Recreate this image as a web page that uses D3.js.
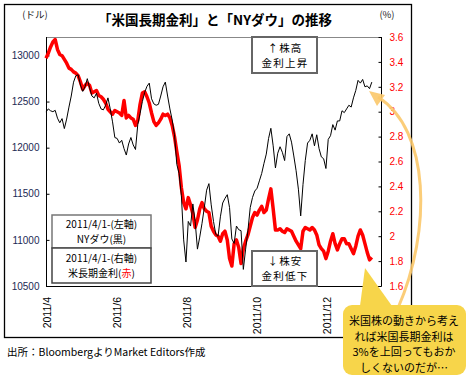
<!DOCTYPE html>
<html><head><meta charset="utf-8">
<script src="https://cdn.jsdelivr.net/npm/d3@7"></script>
<style>body{margin:0;background:#fff} svg{display:block}</style>
</head><body>
<svg id="c" width="470" height="382"></svg>
<script>
// ---- data ----
const startDate = new Date(2011, 3, 1);
const endDate = new Date(2012, 0, 18);
const dowValues = [12386,12420,12400,12390,12405,12320,12270,12315,12207,12310,
12440,12560,12710,12780,12790,12680,12610,12660,12748,12650,
12560,12540,12590,12480,12420,12410,12460,12540,12420,12280,
12110,12100,12050,12080,11990,11920,12040,12110,12030,11980,
12250,12370,12500,12600,12665,12700,12530,12475,12460,12470,
12560,12660,12711,12560,12420,12300,12140,11820,11720,11480,
11000,10760,11200,11150,11390,11200,10900,11030,11180,11350,
11539,11610,11380,11200,11060,11040,11250,11400,11450,11490,
11350,11010,10962,11150,11110,11100,10680,10900,11100,11350,
11460,11530,11560,11640,11720,11830,11930,12100,12210,12020,
11780,11940,12010,11950,11860,12120,12150,12060,11910,11750,
11550,11260,11600,11860,12050,12080,12150,12020,12140,11990,
11900,11880,11774,12090,12130,12250,12190,12290,12290,12400,
12380,12420,12460,12440,12540,12620,12730,12700,12740,12660,
12670,12640,12711];
const rateValues = [3.43,3.47,3.52,3.56,3.58,3.50,3.46,3.45,3.42,3.39,
3.35,3.34,3.32,3.31,3.29,3.24,3.18,3.21,3.23,3.21,
3.15,3.16,3.17,3.13,3.12,3.10,3.07,3.02,3.00,2.98,
3.01,3.00,2.99,2.97,3.09,2.95,2.97,2.95,2.94,2.89,
2.93,3.06,3.15,3.16,3.12,3.07,2.99,2.92,2.89,2.91,
2.94,2.98,2.97,2.98,2.95,2.89,2.80,2.68,2.57,2.39,
2.27,2.22,2.31,2.25,2.18,2.07,2.13,2.22,2.27,2.22,
2.20,2.19,2.08,2.04,2.01,2.00,1.96,2.02,2.04,1.97,
1.82,1.76,1.94,1.97,1.91,1.78,1.90,1.96,2.01,2.08,
2.15,2.19,2.17,2.21,2.24,2.19,2.21,2.30,2.38,2.22,
2.05,2.05,2.06,2.04,2.03,2.06,2.05,2.04,2.00,1.96,
1.93,1.90,2.04,2.07,2.06,2.05,2.07,2.05,2.01,1.93,
1.90,1.88,1.82,1.88,1.96,2.02,1.94,1.89,1.94,1.98,
1.98,1.94,1.94,1.90,1.86,1.92,2.00,2.05,2.01,1.94,
1.87,1.81,1.83];
// categories: one observation every two calendar days from 2011/4/1
const dates = d3.range(dowValues.length).map(i => d3.timeDay.offset(startDate, 2 * i));
const xTickDates = [new Date(2011,3,1), new Date(2011,5,1), new Date(2011,7,1), new Date(2011,9,1), new Date(2011,11,1)];
const xTickLabels = ["2011/4", "2011/6", "2011/8", "2011/10", "2011/12"];
const leftTicks = [10500, 11000, 11500, 12000, 12500, 13000];
const rightTicks = [1.6, 1.8, 2, 2.2, 2.4, 2.6, 2.8, 3, 3.2, 3.4, 3.6];
const titleText = "「米国長期金利」と「NYダウ」の推移";
const calloutLines = ["米国株の動きから考え", "れば米国長期金利は", "3%を上回ってもおか", "しくないのだが…"];

// ---- layout ----
const svg = d3.select("#c");
const L = 46, R = 381, T = 37, B = 286;
const x = d3.scaleTime().domain([startDate, endDate]).range([L, R]);
const yL = d3.scaleLinear().domain([10500, 13200]).range([B, T]);
const yR = d3.scaleLinear().domain([1.6, 3.6]).range([B, T]);
const jp = "'Noto Sans CJK JP', sans-serif";
const num = "'Liberation Sans', Arial, sans-serif";

// outer frame
svg.append("rect").attr("x", 4.5).attr("y", 4.5).attr("width", 407).attr("height", 333)
  .attr("fill", "#fff").attr("stroke", "#000").attr("stroke-width", 1.3);

// title & units
svg.append("text").attr("x", 215).attr("y", 25).attr("text-anchor", "middle")
  .attr("font-family", jp).attr("font-weight", "bold").attr("font-size", 13.5).text(titleText);
svg.append("text").attr("x", 35).attr("y", 18).attr("text-anchor", "middle")
  .attr("font-family", jp).attr("font-size", 9.5).attr("fill", "#222").text("(ドル)");
svg.append("text").attr("x", 387).attr("y", 18).attr("text-anchor", "middle")
  .attr("font-family", jp).attr("font-size", 9.5).attr("fill", "#222").text("(%)");

// plot frame
svg.append("line").attr("x1", L).attr("x2", R).attr("y1", T + 0.5).attr("y2", T + 0.5).attr("stroke", "#888");
svg.append("line").attr("x1", L).attr("x2", R).attr("y1", B + 0.5).attr("y2", B + 0.5).attr("stroke", "#000");

// axes
const gL = svg.append("g").attr("transform", `translate(${L + 0.5},0)`)
  .call(d3.axisLeft(yL).tickValues(leftTicks).tickSize(-3).tickPadding(7).tickFormat(d3.format("d")));
gL.select(".domain").attr("d", `M0,${T}V${B + 0.5}`).attr("stroke", "#000");
gL.selectAll("text").attr("font-family", num).attr("font-size", 10).attr("fill", "#1c2a55");

const gR = svg.append("g").attr("transform", `translate(${R + 0.5},0)`)
  .call(d3.axisRight(yR).tickValues(rightTicks).tickSize(-3).tickPadding(8).tickFormat(d => String(+d.toFixed(1))));
gR.select(".domain").attr("d", `M0,${T}V${B + 0.5}`).attr("stroke", "#000");
gR.selectAll("text").attr("font-family", num).attr("font-size", 10).attr("fill", "#ff0000");

// x labels
svg.append("g").selectAll("text").data(xTickDates).join("text")
  .attr("transform", (d) => `translate(${x(d) + 5},297) rotate(-90)`)
  .attr("text-anchor", "end").attr("font-family", num).attr("font-size", 10.5)
  .text((d, i) => xTickLabels[i]);

// series
const lineR = d3.line().x((d, i) => x(dates[i])).y(d => yR(d));
const lineL = d3.line().x((d, i) => x(dates[i])).y(d => yL(d));
svg.append("path").datum(rateValues).attr("d", lineR).attr("fill", "none")
  .attr("stroke", "#ff0000").attr("stroke-width", 3.5).attr("stroke-linejoin", "round");
svg.append("path").datum(dowValues).attr("d", lineL).attr("fill", "none")
  .attr("stroke", "#000").attr("stroke-width", 1);

// legend boxes
function box(x0, y0, w, h, stroke, sw) {
  svg.append("rect").attr("x", x0).attr("y", y0).attr("width", w).attr("height", h)
    .attr("fill", "#fff").attr("stroke", stroke).attr("stroke-width", sw);
}
box(52, 215, 99, 33, "#777", 1.5);
box(52, 248, 99, 35, "#444", 1.5);
const lt = svg.append("g").attr("font-family", jp).attr("font-size", 10).attr("text-anchor", "middle");
lt.append("text").attr("x", 101.5).attr("y", 228).text("2011/4/1-(左軸)");
lt.append("text").attr("x", 101.5).attr("y", 243).text("NYダウ(黒)");
lt.append("text").attr("x", 101.5).attr("y", 261.5).text("2011/4/1-(右軸)");
const t4 = lt.append("text").attr("x", 101.5).attr("y", 276.5);
t4.append("tspan").text("米長期金利(");
t4.append("tspan").attr("fill", "#ff0000").text("赤");
t4.append("tspan").text(")");

// annotation boxes
box(252, 37, 65, 36, "#666", 2);
box(252, 251, 65, 35, "#666", 2);
const at = svg.append("g").attr("font-family", jp).attr("font-size", 10.5).attr("text-anchor", "middle").attr("letter-spacing", 1.2);
at.append("text").attr("x", 285).attr("y", 52).text("↑株高");
at.append("text").attr("x", 285).attr("y", 67).text("金利上昇");
at.append("text").attr("x", 285).attr("y", 265).text("↓株安");
at.append("text").attr("x", 285).attr("y", 280).text("金利低下");

// source
svg.append("text").attr("x", 7).attr("y", 356).attr("font-family", jp).attr("font-size", 10.5)
  .text("出所：BloombergよりMarket Editors作成");

// arrow
svg.append("path").attr("d", "M398,308 C432,230 430,130 378,97")
  .attr("fill", "none").attr("stroke", "#fbc86a").attr("stroke-width", 3).attr("opacity", 0.9);
svg.append("path").attr("d", "M369,91 L385,95 L377,106 Z").attr("fill", "#fbc86a").attr("opacity", 0.9);

// callout
svg.append("path").attr("d", "M360,306 L365,268 L392,306 Z").attr("fill", "#f7d54a");
svg.append("rect").attr("x", 343).attr("y", 305).attr("width", 123).attr("height", 70).attr("rx", 9)
  .attr("fill", "#f7d54a");
svg.append("g").attr("font-family", jp).attr("font-size", 11).attr("text-anchor", "middle")
  .selectAll("text").data(calloutLines).join("text")
  .attr("x", 404).attr("y", (d, i) => 325 + i * 15.5).text(d => d);
</script>
</body></html>
